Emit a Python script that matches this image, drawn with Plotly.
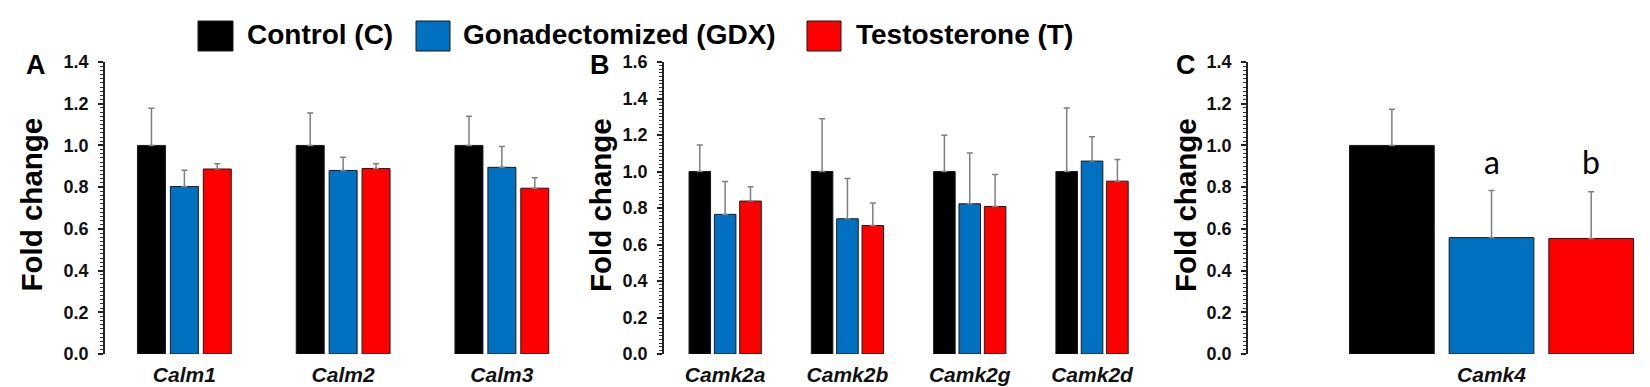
import plotly.graph_objects as go

# ---------------- data ----------------
series_names = ["Control (C)", "Gonadectomized (GDX)", "Testosterone (T)"]
series_colors = ["#000000", "#0070C0", "#FF0000"]

genes_a = ["Calm1", "Calm2", "Calm3"]
a_ctrl = [1.0, 1.0, 1.0]
a_ctrl_err = [0.178, 0.155, 0.14]
a_gdx = [0.803, 0.88, 0.895]
a_gdx_err = [0.078, 0.063, 0.10]
a_t = [0.887, 0.889, 0.795]
a_t_err = [0.025, 0.023, 0.05]

genes_b = ["Camk2a", "Camk2b", "Camk2g", "Camk2d"]
b_ctrl = [1.0, 1.0, 1.0, 1.0]
b_ctrl_err = [0.145, 0.289, 0.198, 0.348]
b_gdx = [0.765, 0.741, 0.823, 1.057]
b_gdx_err = [0.18, 0.22, 0.278, 0.133]
b_t = [0.838, 0.704, 0.808, 0.947]
b_t_err = [0.078, 0.124, 0.176, 0.119]

genes_c = ["Camk4"]
c_ctrl = [1.0]
c_ctrl_err = [0.173]
c_gdx = [0.558]
c_gdx_err = [0.226]
c_t = [0.554]
c_t_err = [0.224]
c_letters = ["a", "b"]          # over GDX and T bars
c_letter_y = 0.925

W, H = 1650, 387
MT, MB = 54, 41
PH = H - MT - MB

def px(x):
    return x / W

def py(y):
    return (H - MB - y) / PH

fig = go.Figure()

panels = [
    ("x", "y", genes_a, [(a_ctrl, a_ctrl_err), (a_gdx, a_gdx_err), (a_t, a_t_err)]),
    ("x2", "y2", genes_b, [(b_ctrl, b_ctrl_err), (b_gdx, b_gdx_err), (b_t, b_t_err)]),
    ("x3", "y3", genes_c, [(c_ctrl, c_ctrl_err), (c_gdx, c_gdx_err), (c_t, c_t_err)]),
]

for xa, ya, genes, data in panels:
    for i, (vals, errs) in enumerate(data):
        fig.add_trace(go.Bar(
            x=genes, y=vals, xaxis=xa, yaxis=ya,
            name=series_names[i], showlegend=False,
            marker=dict(color=series_colors[i], line=dict(color="#1a1a1a", width=1)),
            error_y=dict(type="data", array=errs, arrayminus=[0] * len(errs),
                         symmetric=False, color="#7f7f7f", thickness=1.5, width=3),
        ))

bargap = 0.378
groupgap = 0.15

tickfont = dict(family="Liberation Sans, Arial", size=18, color="#111111", weight="bold")
xtickfont = dict(family="Liberation Sans, Arial", size=21, color="#111111", weight="bold", style="italic")

def yaxis(rng, dom_anchor):
    return dict(
        range=rng, anchor=dom_anchor, domain=[0, 1],
        showline=True, linecolor="#222222", linewidth=1.5,
        ticks="outside", ticklen=5, tickwidth=1.5, tickcolor="#222222",
        dtick=0.2, tick0=0, tickformat=".1f",
        minor=dict(ticks="outside", ticklen=3, dtick=0.02, tickcolor="#333333", tickwidth=1),
        showgrid=False, zeroline=False, tickfont=tickfont,
        ticklabelstandoff=6, fixedrange=True,
    )

def xaxis(dom, rng, anchor):
    return dict(
        domain=dom, range=rng, anchor=anchor, showline=False, ticks="",
        showgrid=False, zeroline=False, tickfont=xtickfont, ticklabelstandoff=6,
        fixedrange=True,
    )

a_left, a_right = 97, 97 + 3 * 158.75
b_left, b_right = 656, 656 + 4 * 122.3
c_left, c_right = 1240, 1650
c_range = [-0.5066, 0.3463]

fig.update_layout(
    width=W, height=H,
    margin=dict(l=0, r=0, t=MT, b=MB),
    plot_bgcolor="white", paper_bgcolor="white",
    barmode="group", bargap=bargap, bargroupgap=groupgap,
    showlegend=False,
    xaxis=xaxis([px(a_left), px(a_right)], [-0.5, 2.5], "y"),
    xaxis2=xaxis([px(b_left), px(b_right)], [-0.5, 3.5], "y2"),
    xaxis3=xaxis([px(c_left), px(c_right)], c_range, "y3"),
    yaxis=yaxis([0, 1.4], "x"),
    yaxis2=yaxis([0, 1.6], "x2"),
    yaxis3=yaxis([0, 1.4], "x3"),
)

annotations = []
# panel letters
for letter, xc in [("A", 28), ("B", 592), ("C", 1178)]:
    annotations.append(dict(text=letter, xref="paper", yref="paper", x=px(xc), y=py(57),
                            xanchor="center", yanchor="middle", showarrow=False,
                            font=dict(family="Liberation Sans, Arial", size=27, color="black", weight="bold")))
# y-axis titles
for xc in [22.5, 592, 1177]:
    annotations.append(dict(text="Fold change", xref="paper", yref="paper", x=px(xc), y=py(197),
                            xanchor="center", yanchor="middle", textangle=-90, showarrow=False,
                            font=dict(family="Liberation Sans, Arial", size=29.5, color="black", weight="bold")))
# significance letters (panel C): GDX is the middle bar of the group, T one slot to the right
px_per_unit = (c_right - c_left) / (c_range[1] - c_range[0])
slot_px = (1 - bargap) / 3 * px_per_unit
for k, letter in enumerate(c_letters):
    annotations.append(dict(text=letter, xref="x3", yref="y3", x=genes_c[0], y=c_letter_y,
                            xshift=k * slot_px,
                            xanchor="center", yanchor="middle", showarrow=False,
                            font=dict(family="Lato, Open Sans", size=32, color="black")))

# legend (manual, large swatches)
leg_sq = [(190, 225), (408, 442), (799, 833)]
leg_tx = [237, 453, 846]
shapes = []
for i in range(3):
    x0, x1 = leg_sq[i]
    shapes.append(dict(type="rect", xref="paper", yref="paper",
                       x0=px(x0), x1=px(x1), y0=py(43), y1=py(13),
                       fillcolor=series_colors[i], line=dict(color="#1a1a1a", width=1)))
    annotations.append(dict(text=series_names[i], xref="paper", yref="paper",
                            x=px(leg_tx[i]), y=py(27), xanchor="left", yanchor="middle",
                            showarrow=False,
                            font=dict(family="Liberation Sans, Arial", size=28, color="black", weight="bold")))

fig.update_layout(annotations=annotations, shapes=shapes)

fig.write_html("out.html")
